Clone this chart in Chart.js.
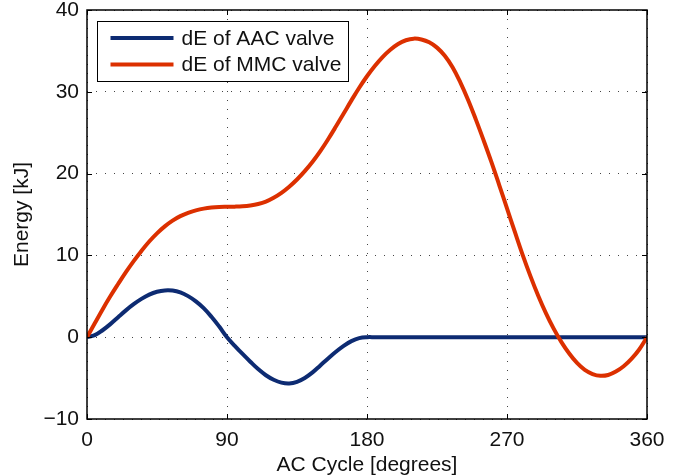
<!DOCTYPE html>
<html>
<head>
<meta charset="utf-8">
<script src="https://cdn.jsdelivr.net/npm/chart.js@4.4.1/dist/chart.umd.min.js"></script>
<style>
  html, body { margin: 0; padding: 0; background: #fff; }
</style>
</head>
<body>
<canvas id="energy" width="679" height="476"></canvas>
<script>
// AC cycle angle, degrees (every 5 deg)
const degrees = [
  0, 5, 10, 15, 20, 25, 30, 35, 40, 45, 50, 55, 60, 65, 70, 75, 80, 85, 90,
  95, 100, 105, 110, 115, 120, 125, 130, 135, 140, 145, 150, 155, 160, 165, 170, 175, 180,
  185, 190, 195, 200, 205, 210, 215, 220, 225, 230, 235, 240, 245, 250, 255, 260, 265, 270,
  275, 280, 285, 290, 295, 300, 305, 310, 315, 320, 325, 330, 335, 340, 345, 350, 355, 360
];

// energy deviation, kJ
const aacEnergy = [
  0, 0.25, 0.85, 1.6, 2.45, 3.28, 4.03, 4.68, 5.2, 5.55, 5.72, 5.7, 5.47, 5.02, 4.38, 3.55, 2.5, 1.3, 0,
  -1.05, -2.05, -3.0, -3.9, -4.65, -5.2, -5.55, -5.65, -5.45, -4.98, -4.3, -3.45, -2.6, -1.78, -1.05, -0.48, -0.12, 0,
  0, 0, 0, 0, 0, 0, 0, 0, 0, 0, 0, 0, 0, 0, 0, 0, 0, 0,
  0, 0, 0, 0, 0, 0, 0, 0, 0, 0, 0, 0, 0, 0, 0, 0, 0, 0
];
const mmcEnergy = [
  0, 1.7, 3.4, 5.0, 6.5, 7.95, 9.3, 10.55, 11.7, 12.7, 13.55, 14.25, 14.8, 15.2, 15.5, 15.72, 15.86, 15.93, 15.95,
  15.96, 16.0, 16.1, 16.28, 16.58, 17.05, 17.65, 18.4, 19.28, 20.3, 21.45, 22.75, 24.2, 25.75, 27.35, 28.95, 30.5, 31.9,
  33.15, 34.25, 35.15, 35.85, 36.3, 36.5, 36.4, 36.05, 35.4, 34.4, 33.0, 31.15, 29.0, 26.6, 24.05, 21.4, 18.6, 15.75,
  12.9, 10.1, 7.5, 5.1, 2.95, 1.05, -0.6, -2.0, -3.15, -4.0, -4.5, -4.72, -4.62, -4.2, -3.55, -2.65, -1.5, 0
];

const seriesLabels = ["dE of AAC valve", "dE of MMC valve"];
const xTickStep = 90;
const yTickStep = 10;

const FONT = '"Liberation Sans", Arial, Helvetica, sans-serif';
const textColor = "#111";

function toPoints(values) {
  return values.map((v, i) => ({ x: degrees[i], y: v }));
}

// MATLAB style box, inward ticks and a legend inside the axes
const boxAndLegend = {
  id: "boxAndLegend",
  afterDatasetsDraw(chart) {
    const { ctx, chartArea: a, scales } = chart;
    ctx.save();
    ctx.strokeStyle = "#000";
    ctx.lineWidth = 1.5;
    ctx.strokeRect(a.left, a.top, a.right - a.left, a.bottom - a.top);

    ctx.lineWidth = 1;
    ctx.beginPath();
    scales.x.ticks.forEach((t) => {
      const px = Math.round(scales.x.getPixelForValue(t.value)) + 0.5;
      ctx.moveTo(px, a.bottom); ctx.lineTo(px, a.bottom - 5);
      ctx.moveTo(px, a.top); ctx.lineTo(px, a.top + 5);
    });
    scales.y.ticks.forEach((t) => {
      const py = Math.round(scales.y.getPixelForValue(t.value)) + 0.5;
      ctx.moveTo(a.left, py); ctx.lineTo(a.left + 5, py);
      ctx.moveTo(a.right, py); ctx.lineTo(a.right - 5, py);
    });
    ctx.stroke();

    // legend
    const lx = a.left + 10.5, ly = a.top + 11.5, lw = 251, lh = 60;
    ctx.fillStyle = "#fff";
    ctx.fillRect(lx, ly, lw, lh);
    ctx.strokeStyle = "#000";
    ctx.lineWidth = 1;
    ctx.strokeRect(lx, ly, lw, lh);
    ctx.font = "21px " + FONT;
    ctx.textBaseline = "middle";
    ctx.textAlign = "left";
    chart.data.datasets.forEach((ds, i) => {
      const rowY = ly + 16.5 + i * 26.5;
      ctx.strokeStyle = ds.borderColor;
      ctx.lineWidth = 4;
      ctx.beginPath();
      ctx.moveTo(lx + 13, rowY);
      ctx.lineTo(lx + 76, rowY);
      ctx.stroke();
      ctx.fillStyle = textColor;
      ctx.fillText(ds.label, lx + 84, rowY + 1);
    });
    ctx.restore();
  }
};

const ctx = document.getElementById("energy").getContext("2d");
new Chart(ctx, {
  type: "line",
  data: {
    datasets: [
      {
        label: seriesLabels[0],
        data: toPoints(aacEnergy),
        borderColor: "#0d2b72",
        borderWidth: 4,
        pointRadius: 0,
        tension: 0.4,
        fill: false,
        order: 1,
      },
      {
        label: seriesLabels[1],
        data: toPoints(mmcEnergy),
        borderColor: "#dc3000",
        borderWidth: 4,
        pointRadius: 0,
        tension: 0.4,
        fill: false,
        order: 0,
      },
    ],
  },
  options: {
    responsive: false,
    animation: false,
    layout: { padding: { left: 0, top: 10, right: 32, bottom: 0 } },
    plugins: { legend: { display: false }, tooltip: { enabled: false } },
    scales: {
      x: {
        type: "linear",
        min: 0,
        max: 360,
        ticks: {
          stepSize: xTickStep,
          color: textColor,
          font: { family: FONT, size: 21 },
          padding: 9,
          maxRotation: 0,
        },
        grid: { color: "#444", lineWidth: 1, drawTicks: false },
        border: { display: false, dash: [1, 8] },
        title: {
          display: true,
          text: "AC Cycle [degrees]",
          color: textColor,
          font: { family: FONT, size: 21, lineHeight: 1 },
          padding: { top: 0, bottom: 0 },
        },
        afterFit(scale) {
          scale.height = 57;
          scale.paddingLeft = 0;
          scale.paddingRight = 0;
        },
      },
      y: {
        min: -10,
        max: 40,
        ticks: {
          stepSize: yTickStep,
          color: textColor,
          font: { family: FONT, size: 21 },
          padding: 8,
          callback: (v) => (v < 0 ? "\u2212" + Math.abs(v) : String(v)),
        },
        grid: { color: "#444", lineWidth: 1, drawTicks: false },
        border: { display: false, dash: [1, 8] },
        title: {
          display: true,
          text: "Energy [kJ]",
          color: textColor,
          font: { family: FONT, size: 21, lineHeight: 1 },
          padding: { top: 12, bottom: 0 },
        },
        afterFit(scale) {
          scale.width = 87;
          scale.paddingTop = 0;
          scale.paddingBottom = 0;
        },
      },
    },
  },
  plugins: [boxAndLegend],
});
</script>
</body>
</html>
